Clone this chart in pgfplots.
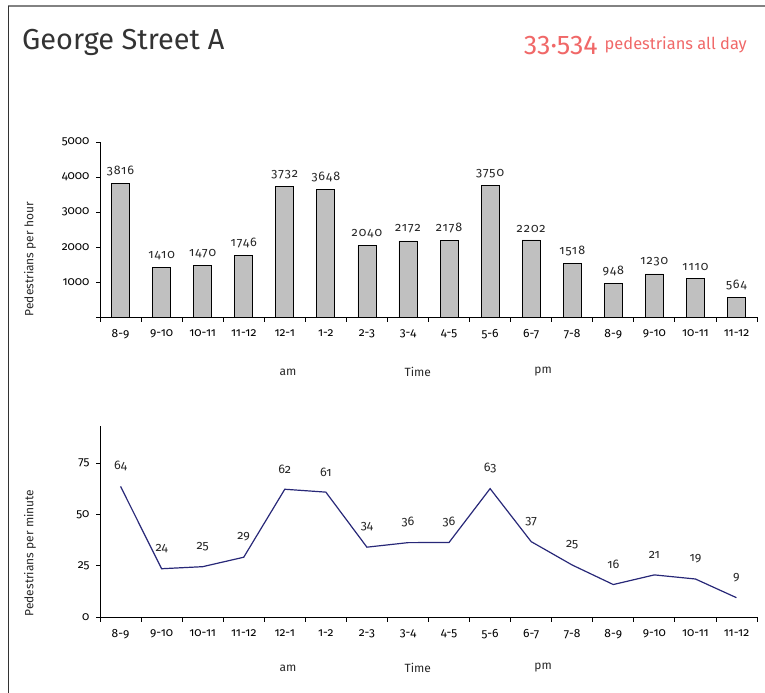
\documentclass[border=0pt]{standalone}
\usepackage{fontspec}
\setmainfont{Fira Sans}
\newfontfamily\osf{Fira Sans}[Numbers=OldStyle]
\newfontfamily\osfwide{Fira Sans}[Numbers=OldStyle, LetterSpace=8]
\usepackage{pgfplots}
\pgfplotsset{compat=1.18}
\usepackage{pgfplotstable}

\definecolor{barfill}{RGB}{192,192,192}
\definecolor{navyline}{RGB}{40,40,120}
\definecolor{salmon}{RGB}{240,104,104}
\definecolor{framegray}{RGB}{130,130,130}

% pedestrians per hour
\pgfplotstableread{
x y
0 3816
1 1410
2 1470
3 1746
4 3732
5 3648
6 2040
7 2172
8 2178
9 3750
10 2202
11 1518
12 948
13 1230
14 1110
15 564
}\hourly

% pedestrians per minute
\pgfplotstableread{
x y lab
0 63.6 64
1 23.5 24
2 24.5 25
3 29.1 29
4 62.2 62
5 60.8 61
6 34.0 34
7 36.2 36
8 36.3 36
9 62.5 63
10 36.7 37
11 25.3 25
12 15.8 16
13 20.5 21
14 18.5 19
15 9.4 9
}\minute

\pgfplotsset{
  street/.style={
    scale only axis, width=657bp, anchor=south west,
    xmin=-0.5, xmax=15.5,
    axis lines*=left,
    xtick={0,...,15},
    xticklabels={8-9,9-10,10-11,11-12,12-1,1-2,2-3,3-4,4-5,5-6,6-7,7-8,8-9,9-10,10-11,11-12},
    major x tick style={draw=none},
    minor xtick={-0.5,0.5,...,15.5},
    tick align=outside,
    major tick length=4bp, minor tick length=5bp,
    tick style={black, line width=0.8bp},
    axis line style={line width=0.8bp},
    ticklabel style={font=\osf\fontsize{12}{14}\selectfont},
    xticklabel style={yshift=-5bp},
    yticklabel style={xshift=-3bp},
    /pgf/number format/assume math mode=true,
    /pgf/number format/1000 sep={},
    scaled y ticks=false,
    label style={font=\fontsize{12}{14}\selectfont, color=black!85},
    clip=false,
  },
}

\begin{document}
\begin{tikzpicture}[x=1bp,y=1bp]
\useasboundingbox (0,0) rectangle (765,693);
\draw[framegray, line width=1.2bp] (8,687) -- (765,687);
\draw[black!80, line width=1bp] (8,687) -- (8,0);

\node[anchor=base west, inner sep=0, color=black!80, font=\fontsize{29}{34}\selectfont] at (22,643) {George Street A};
\node[anchor=base east, inner sep=0, color=salmon] at (747,638)
  {{\fontsize{27}{30}\selectfont 33·534}\hspace{7bp}\raisebox{5bp}{\fontsize{16.5}{20}\selectfont pedestrians all day}};

\begin{axis}[street,
  at={(100bp,376bp)}, height=175bp,
  ymin=0, ymax=5000,
  ytick={0,1000,...,5000},
  yticklabels={,1000,2000,3000,4000,5000},
  ylabel={Pedestrians per hour},
  ylabel style={at={(axis description cs:-0.1065,0.33)}, anchor=center},
  ybar, bar width=18bp,
  nodes near coords,
  every node near coord/.append style={font=\osfwide\fontsize{12.5}{14}\selectfont, color=black!85, yshift=4bp},
]
\addplot[fill=barfill, draw=black, line width=0.8bp] table[x=x,y=y]{\hourly};
\node[font=\fontsize{12}{14}\selectfont, color=black!85] at (axis cs:4.08,0) [yshift=-55bp] {am};
\node[font=\fontsize{12}{14}\selectfont, color=black!85] at (axis cs:7.24,0) [yshift=-55bp] {Time};
\node[font=\fontsize{12}{14}\selectfont, color=black!85] at (axis cs:10.29,0) [yshift=-55bp] {pm};
\end{axis}

\begin{axis}[street,
  at={(100bp,76bp)}, height=191bp,
  ymin=0, ymax=93,
  ytick={0,25,50,75},
  ylabel={Pedestrians per minute},
  ylabel style={at={(axis description cs:-0.1065,0.335)}, anchor=center},
]
\addplot[navyline, line width=1.2bp, mark=none,
  nodes near coords, point meta=explicit symbolic,
  every node near coord/.append style={font=\osf\fontsize{12.5}{14}\selectfont, color=black!85, yshift=12bp}]
  table[x=x,y=y,meta=lab]{\minute};
\node[font=\fontsize{12}{14}\selectfont, color=black!85] at (axis cs:4.08,0) [yshift=-51bp] {am};
\node[font=\fontsize{12}{14}\selectfont, color=black!85] at (axis cs:7.24,0) [yshift=-51bp] {Time};
\node[font=\fontsize{12}{14}\selectfont, color=black!85] at (axis cs:10.29,0) [yshift=-51bp] {pm};
\end{axis}
\end{tikzpicture}
\end{document}
